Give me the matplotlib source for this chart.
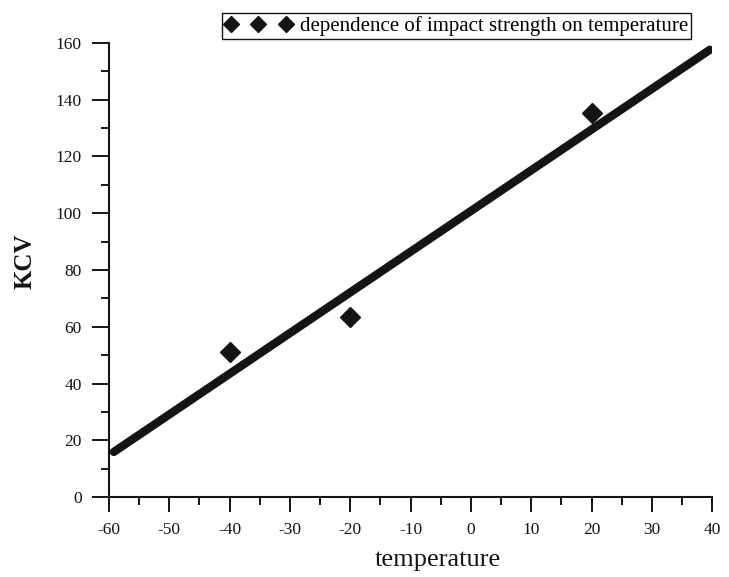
import matplotlib
matplotlib.use("Agg")
import matplotlib.pyplot as plt
from matplotlib.ticker import MultipleLocator

# measured points
temperature = [-40, -20, 20]
kcv = [51.2, 63.3, 135.3]

# fitted line endpoints
line_x = [-59.2, 39.6]
line_y = [15.9, 157.6]

legend_label = "dependence of impact strength on temperature"

plt.rcParams['font.family'] = ['Liberation Serif', 'DejaVu Serif']
plt.rcParams['axes.unicode_minus'] = False

ink = '#141414'

fig = plt.figure(figsize=(7.29, 5.77), dpi=100)
ax = fig.add_axes([0.1495, 0.1386, 0.8275, 0.7869])

ax.plot(line_x, line_y, color=ink, linewidth=6.0, solid_capstyle='round', zorder=2)
ax.plot(temperature, kcv, linestyle='None', marker='D', markersize=10,
        markeredgewidth=1, color=ink, label=legend_label, zorder=3)

ax.set_xlim(-60, 40)
ax.set_ylim(0, 160)
ax.xaxis.set_major_locator(MultipleLocator(10))
ax.xaxis.set_minor_locator(MultipleLocator(5))
ax.yaxis.set_major_locator(MultipleLocator(20))
ax.yaxis.set_minor_locator(MultipleLocator(10))

for side in ['top', 'right']:
    ax.spines[side].set_visible(False)
for side in ['left', 'bottom']:
    ax.spines[side].set_linewidth(1.5)
    ax.spines[side].set_color(ink)

ax.tick_params(axis='x', which='major', length=11, width=1.4, pad=7, labelsize=12.5, colors=ink)
ax.tick_params(axis='y', which='major', length=12.5, width=1.4, pad=7, labelsize=12.5, colors=ink)
ax.tick_params(which='minor', length=6, width=1.4, colors=ink)

ax.set_xlabel("temperature", fontsize=19, color=ink)
ax.xaxis.set_label_coords(0.545, -0.115)
ax.set_ylabel("KCV", fontsize=18, fontweight='bold', color=ink)
ax.yaxis.set_label_coords(-0.12, 0.52)

leg = ax.legend(loc='upper left', bbox_to_anchor=(0.3045, 0.9775),
                bbox_transform=fig.transFigure, borderaxespad=0,
                numpoints=3, handlelength=3.2, handletextpad=0.4,
                borderpad=0.15, fontsize=15, markerscale=0.85,
                fancybox=False, framealpha=1, edgecolor=ink)
leg.get_frame().set_linewidth(1.0)

fig.savefig("out.png", dpi=100)
